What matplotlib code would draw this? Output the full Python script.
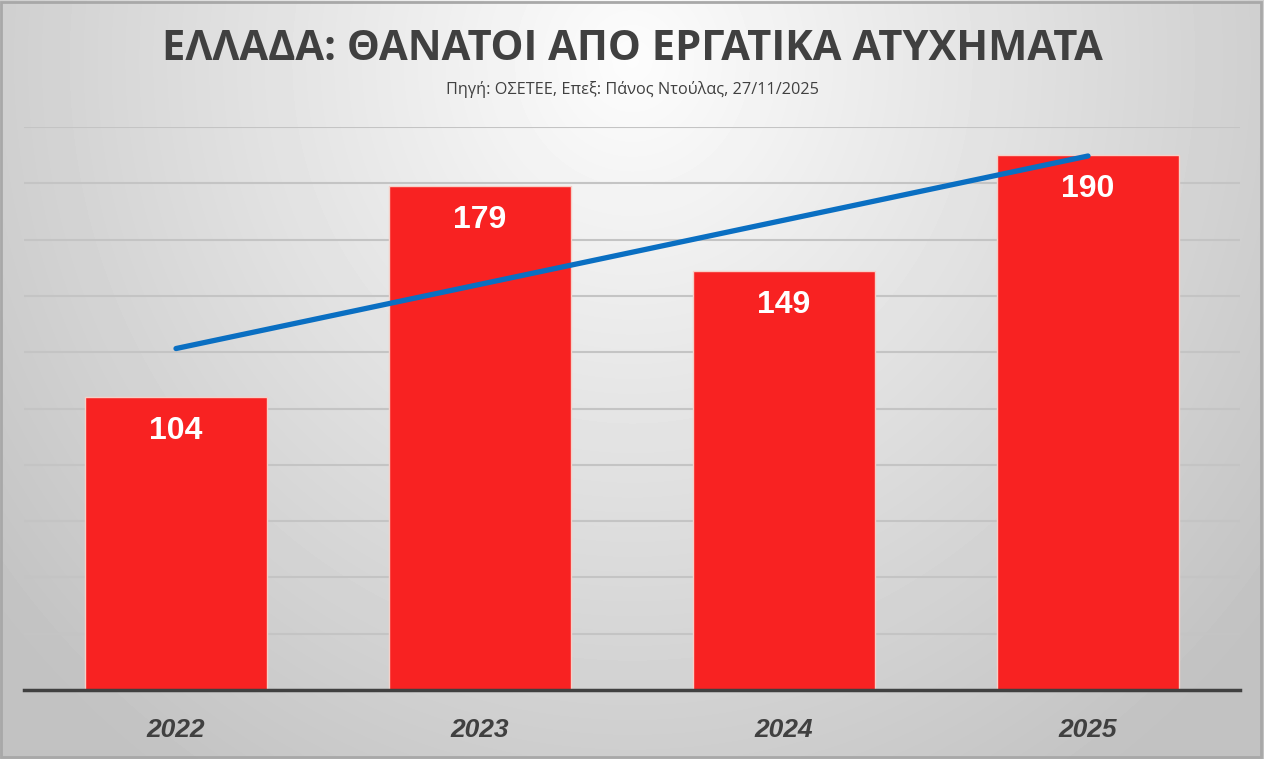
import matplotlib
matplotlib.use("Agg")
import matplotlib.pyplot as plt
import numpy as np

# data
years = ["2022", "2023", "2024", "2025"]
deaths = [104, 179, 149, 190]
title = "ΕΛΛΑΔΑ: ΘΑΝΑΤΟΙ ΑΠΟ ΕΡΓΑΤΙΚΑ ΑΤΥΧΗΜΑΤΑ"
subtitle = "Πηγή: ΟΣΕΤΕΕ, Επεξ: Πάνος Ντούλας, 27/11/2025"

W, H = 1264, 759
fig = plt.figure(figsize=(W / 100, H / 100), dpi=100)

# radial gray background
bg = fig.add_axes([0, 0, 1, 1], zorder=-10)
yy, xx = np.mgrid[0:H, 0:W]
r = np.sqrt(((xx - W * 0.5) / (W * 0.62)) ** 2 + ((yy - H * 0.08) / (H * 1.1)) ** 2)
shade = np.clip(0.99 - 0.22 * r, 0.76, 1.0)
bg.imshow(shade, cmap="gray", vmin=0, vmax=1, aspect="auto", extent=[0, 1, 0, 1])
bg.set_xlim(0, 1); bg.set_ylim(0, 1); bg.axis("off")
bg.add_patch(plt.Rectangle((0.001, 0.002), 0.997, 0.995, fill=False, ec="#a8a8a8", lw=2))

ax = fig.add_axes([24 / W, 1 - 690 / H, 1216 / W, (690 - 127) / H])
ax.patch.set_alpha(0)
x = np.arange(len(years))
ax.bar(x, deaths, width=0.6, color="#f82222", edgecolor="#f6d0c8", lw=1, zorder=2)

# linear trend line
k, b = np.polyfit(x, deaths, 1)
ax.plot(x, k * x + b, color="#0a6fc2", lw=3.8, solid_capstyle="round", zorder=3)

for xi, v in zip(x, deaths):
    ax.annotate(str(v), (xi, v), xytext=(0, -34), textcoords="offset pixels",
                ha="center", va="center", color="white", fontsize=23, fontweight="bold",
                family="Liberation Sans", zorder=4)

ax.set_xlim(-0.5, 3.5)
ax.set_ylim(0, 200)
ax.set_yticks(np.arange(0, 201, 20))
ax.yaxis.grid(True, color="#c4c4c4", lw=1.5, zorder=0)
ax.set_axisbelow(True)
ax.tick_params(left=False, labelleft=False, bottom=False, length=0)
for s in ["top", "right", "left"]:
    ax.spines[s].set_visible(False)
ax.spines["bottom"].set_color("#404040")
ax.spines["bottom"].set_linewidth(2.5)
ax.set_xticks(x)
ax.set_xticklabels(years, fontsize=19, fontweight="bold", fontstyle="italic",
                   color="#404040", family="Liberation Sans")
ax.tick_params(axis="x", pad=20)

fig.text(0.5, 1 - 49 / H, title, ha="center", va="center", fontsize=30, fontweight="bold",
         color="#404040", family=["Open Sans", "DejaVu Sans"])
fig.text(0.5, 1 - 89 / H, subtitle, ha="center", va="center", fontsize=11.7,
         color="#404040", family=["Open Sans", "DejaVu Sans"])

fig.savefig("out.png", dpi=100)
